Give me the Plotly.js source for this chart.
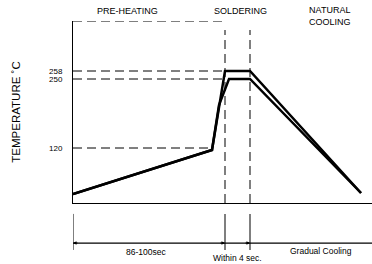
<!DOCTYPE html>
<html><head><meta charset="utf-8">
<script src="https://cdn.plot.ly/plotly-3.0.1.min.js"></script>
<style>html,body{margin:0;padding:0;background:#fff}#c{width:372px;height:264px}</style>
</head><body><div id="c"></div>
<script>
// Schematic profile (x: time units, y: schematic temperature units)
const outerX = [0, 139, 152, 177, 288];
const outerY = [9, 53, 132, 132, 10];
const innerX = [0, 139, 146, 156, 177, 288];
const innerY = [9, 53, 98, 124, 124, 10];
// reference levels
const levelY = [182, 132, 124, 55];
const levelEndX = [151, 152, 152, 139];
const tickVals = [55, 124, 132];
const tickText = ["120", "250", "258"];
// soldering window boundaries
const windowX = [152, 177];
const windowTop = 173;
// labels
const phaseText = ["PRE-HEATING", "SOLDERING", "NATURAL<br>COOLING"];
const phaseX = [54, 167, 257];
const spanText = ["86-100sec", "Within 4 sec.", "Gradual Cooling"];
const spanX = [73, 164, 248];
const spanY = [-0.27, -0.30, -0.262];

const F = "Liberation Sans, Arial, sans-serif";
const shapes = [];
levelY.forEach((y, i) => shapes.push({type:'line', xref:'x', yref:'y', x0:0, x1:levelEndX[i], y0:y, y1:y,
  line:{color:'#000', width:1, dash:'9px,5px'}, layer:'below'}));
windowX.forEach(x => {
  shapes.push({type:'line', xref:'x', yref:'y', x0:x, x1:x, y0:0, y1:windowTop,
    line:{color:'#555', width:1.5, dash:'9px,5px'}, layer:'below'});
  shapes.push({type:'line', xref:'x', yref:'paper', x0:x, x1:x, y0:-0.06, y1:-0.258,
    line:{color:'#555', width:1.5}});
});
// lower span scale
shapes.push({type:'line', xref:'x', yref:'paper', x0:0, x1:0, y0:-0.06, y1:-0.258, line:{color:'#000', width:1}});
shapes.push({type:'line', xref:'x', yref:'paper', x0:0, x1:299, y0:-0.22, y1:-0.22, line:{color:'#000', width:1.3}});

const annotations = [];
phaseText.forEach((t, i) => annotations.push({text:t, x:phaseX[i], xref:'x', y: i===2 ? 1.03 : 1.055, yref:'paper',
  showarrow:false, font:{family:F, size:9, color:'#000'}, xanchor:'center', yanchor:'middle'}));
spanText.forEach((t, i) => annotations.push({text:t, x:spanX[i], xref:'x', y:spanY[i], yref:'paper',
  showarrow:false, font:{family:F, size:8.5, color:'#000'}, xanchor:'center', yanchor:'middle'}));
// small arrowheads on span line
[[0, 6], [windowX[0], -6], [windowX[1], -6]].forEach(([x, ax]) => annotations.push({
  x:x, xref:'x', y:-0.22, yref:'paper', ax:ax, ay:0, text:'', showarrow:true,
  arrowhead:2, arrowsize:0.7, arrowwidth:1, arrowcolor:'#000'}));

const data = [
  {x:outerX, y:outerY, mode:'lines', line:{color:'#000', width:2.5}, hoverinfo:'skip'},
  {x:innerX, y:innerY, mode:'lines', line:{color:'#000', width:2.5}, hoverinfo:'skip'}
];
const layout = {
  width:372, height:264, margin:{l:73, r:0, t:21, b:61},
  paper_bgcolor:'#fff', plot_bgcolor:'#fff', showlegend:false,
  xaxis:{range:[0, 299], showgrid:false, zeroline:false, showticklabels:false, ticks:'',
    showline:true, linecolor:'#000', linewidth:1.3, fixedrange:true},
  yaxis:{range:[0, 182], showgrid:false, zeroline:false, tickvals:tickVals, ticktext:tickText, ticks:'',
    ticklabelstandoff:8, tickfont:{family:F, size:8, color:'#000'},
    showline:true, linecolor:'#000', linewidth:1, fixedrange:true,
    title:{text:'TEMPERATURE ˚C', font:{family:F, size:11.5, color:'#000'}, standoff:26}},
  shapes:shapes, annotations:annotations
};
Plotly.newPlot('c', data, layout, {displayModeBar:false, staticPlot:true});
</script></body></html>
